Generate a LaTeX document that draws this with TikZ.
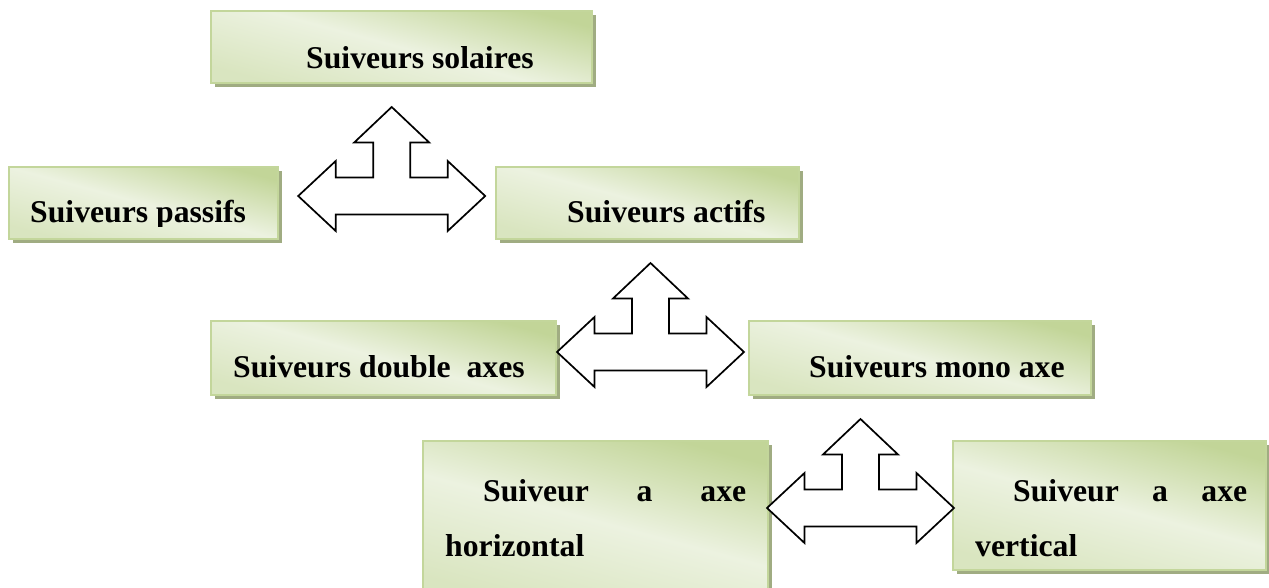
\documentclass[tikz,border=0pt]{standalone}
\usepackage{fontspec}
\setmainfont{Liberation Serif}
\usetikzlibrary{shadows}
\definecolor{boxborder}{RGB}{195,214,155}
\definecolor{boxdark}{RGB}{194,213,152}
\definecolor{boxlight}{RGB}{236,242,224}
\definecolor{boxshadow}{RGB}{160,172,130}
\begin{document}
\begin{tikzpicture}[x=1pt,y=-1pt,
 box/.style={draw=boxborder, line width=1.5pt, inner sep=0pt,
   top color=boxdark, bottom color=boxlight!55!boxdark, middle color=boxlight,
   shading angle=-15,
   general shadow={shadow xshift=4pt, shadow yshift=-4pt, fill=boxshadow}},
 lbl/.style={font=\fontsize{31.7}{38}\selectfont\bfseries, inner sep=0pt, anchor=base west},
 arrowline/.style={draw=black, fill=white, line width=1.7pt, line join=miter},
 triarrow/.pic={
   \draw[arrowline] (-93.5,0) -- (-56,-35) -- (-56,-18.5) -- (-18.5,-18.5) -- (-18.5,-53.5)
     -- (-37.5,-53.5) -- (0,-89) -- (37.5,-53.5) -- (18.5,-53.5) -- (18.5,-18.5)
     -- (56,-18.5) -- (56,-35) -- (93.5,0) -- (56,35) -- (56,18.5) -- (-56,18.5)
     -- (-56,35) -- cycle;
 }]
\useasboundingbox (0,0) rectangle (1269,588);
% boxes
\node[box, minimum width=381pt, minimum height=72pt] (solaires) at (401.5,47) {};
\node[box, minimum width=269pt, minimum height=72pt] (passifs) at (143.5,203) {};
\node[box, minimum width=303pt, minimum height=72pt] (actifs) at (647.5,203) {};
\node[box, minimum width=345pt, minimum height=74pt] (double) at (383.5,358) {};
\node[box, minimum width=342pt, minimum height=74pt] (mono) at (920,358) {};
\node[box, minimum width=345pt, minimum height=159pt] (horiz) at (595.5,520.5) {};
\node[box, minimum width=313pt, minimum height=129pt] (vert) at (1109.5,505.5) {};
% labels
\node[lbl] (tsol) at (306,69) {Suiveurs solaires};
\begin{scope}
  \clip (10,168) rectangle (277,227);
  \node[lbl] (tpas) at (30,223) {Suiveurs passifs};
\end{scope}
\node[lbl] (tact) at (567,223) {Suiveurs actifs};
\node[lbl] (tdbl) at (233,377) {Suiveurs double\ \ axes};
\node[lbl] (tmono) at (809,377) {Suiveurs mono axe};
\node[lbl] (th1) at (483,501) {\hbox to 263pt{Suiveur\hfill a\hfill axe}};
\node[lbl] (th2) at (445,556) {horizontal};
\node[lbl] (tv1) at (1013,501) {\hbox to 234pt{Suiveur\hfill a\hfill axe}};
\node[lbl] (tv2) at (975,556) {vertical};
% three-way arrows
\pic at (391.7,196) {triarrow};
\pic at (650.5,352) {triarrow};
\pic at (860.5,508) {triarrow};
\end{tikzpicture}
\end{document}
